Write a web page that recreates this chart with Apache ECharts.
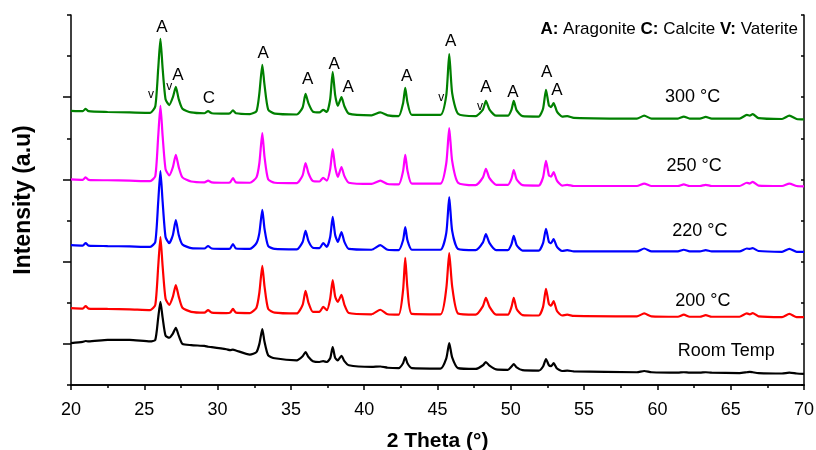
<!DOCTYPE html>
<html>
<head>
    <meta charset="utf-8">
    <title>XRD</title>
    <script src="https://cdn.jsdelivr.net/npm/echarts@6/dist/echarts.min.js"></script>
</head>
<body style="margin:0">
<div id="main" style="width:816px;height:450px;"></div>

<script type="text/javascript">
    // 2 theta positions shared by all patterns
    var theta = [20, 20.8, 21.0, 21.2, 22.5, 24.0, 25.4, 25.75, 25.95, 26.1,
        26.25, 26.45, 26.7, 26.95, 27.15, 27.35, 27.6, 28.2, 29.1, 29.35,
        29.6, 30.6, 30.85, 31.05, 31.25, 32.2, 32.65, 32.85, 33.05, 33.2,
        33.45, 33.9, 35.4, 35.8, 36.0, 36.2, 36.5, 36.95, 37.2, 37.45,
        37.68, 37.85, 38.02, 38.2, 38.45, 38.65, 38.95, 40.5, 41.1, 41.6,
        42.35, 42.65, 42.8, 42.95, 43.25, 45.2, 45.6, 45.8, 46.0, 46.4,
        47.6, 48.1, 48.3, 48.55, 49.0, 49.8, 50.05, 50.2, 50.4, 50.8,
        51.9, 52.2, 52.4, 52.6, 52.75, 52.92, 53.15, 53.5, 53.85, 54.3,
        58.6, 59.1, 59.6, 61.4, 61.8, 62.2, 62.9, 63.3, 63.7, 65.6,
        66.1, 66.3, 66.5, 66.9, 68.5, 69.0, 69.5, 70];

    // intensities (stacked, arbitrary units)
    var t300 = [6.67, 6.66, 6.72, 6.66, 6.64, 6.63, 6.62, 6.78, 7.7, 8.42,
        7.7, 6.95, 6.81, 7.0, 7.25, 6.95, 6.72, 6.63, 6.61, 6.66,
        6.61, 6.60, 6.61, 6.68, 6.61, 6.59, 6.66, 7.1, 7.79, 7.3,
        6.7, 6.6, 6.58, 6.75, 7.08, 6.85, 6.65, 6.63, 6.69, 6.64,
        6.95, 7.62, 7.05, 6.79, 7.0, 6.78, 6.6, 6.56, 6.63, 6.56,
        6.54, 6.85, 7.23, 6.88, 6.57, 6.57, 7.05, 8.05, 7.1, 6.6,
        6.54, 6.7, 6.91, 6.7, 6.55, 6.55, 6.7, 6.91, 6.68, 6.54,
        6.53, 6.72, 7.18, 6.8, 6.76, 6.86, 6.65, 6.53, 6.54, 6.5,
        6.48, 6.55, 6.48, 6.48, 6.53, 6.48, 6.48, 6.52, 6.48, 6.48,
        6.57, 6.55, 6.59, 6.49, 6.47, 6.55, 6.47, 6.46];
    var t250 = [5.00, 4.99, 5.05, 4.99, 4.98, 4.97, 4.96, 5.08, 6.06, 6.79,
        6.06, 5.25, 5.1, 5.3, 5.6, 5.3, 5.05, 4.95, 4.93, 4.97,
        4.93, 4.92, 4.93, 5.03, 4.93, 4.92, 5.05, 5.4, 6.13, 5.55,
        5.0, 4.92, 4.91, 5.1, 5.4, 5.15, 4.96, 4.95, 5.04, 4.97,
        5.25, 5.74, 5.3, 5.06, 5.3, 5.08, 4.92, 4.89, 4.97, 4.89,
        4.88, 5.2, 5.6, 5.22, 4.9, 4.9, 5.4, 6.25, 5.45, 4.92,
        4.86, 5.05, 5.26, 5.03, 4.87, 4.87, 5.02, 5.23, 5.0, 4.86,
        4.85, 5.05, 5.45, 5.1, 5.07, 5.18, 4.97, 4.85, 4.87, 4.84,
        4.84, 4.9, 4.84, 4.84, 4.88, 4.84, 4.84, 4.87, 4.84, 4.84,
        4.92, 4.9, 4.94, 4.85, 4.84, 4.9, 4.84, 4.83];
    var t220 = [3.40, 3.39, 3.45, 3.39, 3.38, 3.37, 3.36, 3.48, 4.46, 5.2,
        4.46, 3.6, 3.45, 3.65, 4.01, 3.65, 3.42, 3.33, 3.32, 3.38,
        3.32, 3.31, 3.32, 3.43, 3.32, 3.31, 3.45, 3.7, 4.26, 3.8,
        3.38, 3.31, 3.3, 3.48, 3.75, 3.5, 3.34, 3.33, 3.45, 3.36,
        3.6, 4.09, 3.65, 3.48, 3.72, 3.48, 3.31, 3.29, 3.4, 3.29,
        3.28, 3.52, 3.84, 3.52, 3.29, 3.29, 3.7, 4.57, 3.75, 3.31,
        3.28, 3.47, 3.67, 3.45, 3.28, 3.28, 3.43, 3.63, 3.4, 3.27,
        3.27, 3.45, 3.8, 3.48, 3.45, 3.55, 3.36, 3.26, 3.28, 3.25,
        3.25, 3.32, 3.25, 3.25, 3.29, 3.25, 3.25, 3.28, 3.25, 3.25,
        3.32, 3.31, 3.33, 3.26, 3.24, 3.31, 3.24, 3.24];
    var t200 = [1.87, 1.86, 1.92, 1.86, 1.85, 1.84, 1.82, 1.95, 2.89, 3.6,
        2.89, 2.1, 1.95, 2.15, 2.43, 2.15, 1.88, 1.78, 1.76, 1.82,
        1.76, 1.75, 1.76, 1.85, 1.76, 1.75, 1.88, 2.25, 2.9, 2.4,
        1.85, 1.76, 1.74, 1.95, 2.29, 2.0, 1.78, 1.78, 1.9, 1.82,
        2.1, 2.55, 2.15, 2.02, 2.19, 1.95, 1.75, 1.72, 1.83, 1.72,
        1.71, 2.3, 3.09, 2.35, 1.73, 1.72, 2.35, 3.21, 2.4, 1.74,
        1.71, 1.92, 2.12, 1.9, 1.71, 1.71, 1.9, 2.12, 1.85, 1.7,
        1.69, 1.9, 2.34, 1.97, 1.93, 2.04, 1.8, 1.69, 1.71, 1.68,
        1.67, 1.74, 1.67, 1.66, 1.71, 1.66, 1.66, 1.7, 1.66, 1.66,
        1.74, 1.72, 1.75, 1.67, 1.65, 1.73, 1.65, 1.65];
    var tRoom = [1.02, 1.05, 1.07, 1.06, 1.1, 1.1, 1.06, 1.1, 1.64, 2.02,
        1.64, 1.2, 1.15, 1.25, 1.39, 1.2, 1.0, 0.97, 0.95, 0.93,
        0.92, 0.87, 0.85, 0.86, 0.84, 0.74, 0.8, 1.0, 1.36, 1.05,
        0.72, 0.65, 0.6, 0.7, 0.8, 0.68, 0.58, 0.56, 0.58, 0.56,
        0.65, 0.92, 0.66, 0.6, 0.71, 0.58, 0.48, 0.44, 0.45, 0.42,
        0.41, 0.53, 0.68, 0.53, 0.41, 0.4, 0.65, 1.02, 0.67, 0.41,
        0.39, 0.48, 0.56, 0.47, 0.38, 0.37, 0.45, 0.51, 0.43, 0.36,
        0.35, 0.45, 0.63, 0.48, 0.46, 0.53, 0.4, 0.34, 0.35, 0.33,
        0.31, 0.34, 0.31, 0.3, 0.31, 0.3, 0.3, 0.31, 0.3, 0.29,
        0.31, 0.32, 0.31, 0.29, 0.28, 0.3, 0.28, 0.27];

    // phase marks: [2theta, intensity, letter]
    var phaseMarks = [
        [26.2, 8.69, 'A'], [27.3, 7.54, 'A'], [29.4, 6.98, 'C'], [33.1, 8.08, 'A'],
        [36.15, 7.44, 'A'], [37.95, 7.81, 'A'], [38.9, 7.25, 'A'], [42.9, 7.52, 'A'],
        [45.9, 8.35, 'A'], [48.3, 7.25, 'A'], [50.15, 7.12, 'A'], [52.45, 7.6, 'A'],
        [53.15, 7.18, 'A']
    ];
    var vaterMarks = [[25.45, 7.06, 'v'], [26.7, 7.25, 'v'], [45.25, 7.0, 'v'], [47.9, 6.77, 'v']];

    // sample names: [2theta, intensity, name]
    var sampleNames = [
        [62.4, 7.0, '300 °C'], [62.5, 5.33, '250 °C'], [62.9, 3.75, '220 °C'],
        [63.1, 2.04, '200 °C'], [64.7, 0.83, 'Room Temp']
    ];

    var font = 'Arial, "Liberation Sans", sans-serif';

    function pairs(vals) {
        return theta.map(function (x, i) { return [x, vals[i]]; });
    }

    function line(name, vals, color) {
        return {
            name: name,
            type: 'line',
            data: pairs(vals),
            showSymbol: false,
            symbol: 'none',
            smooth: 0.2,
            lineStyle: {color: color, width: 2.2},
            silent: true,
            z: 2
        };
    }

    function textSeries(data, size) {
        return {
            type: 'scatter',
            data: data,
            symbolSize: 0,
            silent: true,
            z: 5,
            itemStyle: {opacity: 1},
            label: {
                show: true,
                position: 'inside',
                formatter: function (p) { return p.data[2]; },
                fontSize: size,
                fontFamily: font,
                color: '#000',
                textBorderWidth: 0,
                opacity: 1
            }
        };
    }

    var axisLine = {show: true, lineStyle: {color: '#000', width: 1.5}};

    var option = {
        animation: false,
        grid: {left: 71, right: 12, top: 15, bottom: 65, containLabel: false, outerBoundsMode: 'none'},
        xAxis: [{
            type: 'value', min: 20, max: 70, interval: 5,
            position: 'bottom',
            axisLine: axisLine,
            axisTick: {show: true, inside: false, length: 5, lineStyle: {color: '#000', width: 1.5}},
            minorTick: {show: true, splitNumber: 2, length: 3, lineStyle: {color: '#000', width: 1.5}},
            axisLabel: {fontSize: 18, color: '#000', fontFamily: font, margin: 16},
            splitLine: {show: false},
            name: '2 Theta (°)', nameLocation: 'middle', nameGap: 46,
            nameTextStyle: {fontSize: 21, fontWeight: 'bold', color: '#000', fontFamily: font}
        }, {
            type: 'value', min: 20, max: 70, interval: 5,
            position: 'top',
            axisLine: axisLine,
            axisTick: {show: true, inside: true, length: 3, lineStyle: {color: '#000', width: 1.5}},
            minorTick: {show: true, splitNumber: 2, length: 3, lineStyle: {color: '#000', width: 1.5}},
            axisLabel: {show: false},
            splitLine: {show: false}
        }],
        yAxis: [{
            type: 'value', min: 0, max: 9, interval: 1,
            position: 'left',
            axisLine: axisLine,
            axisTick: {show: true, inside: false, length: 4, lineStyle: {color: '#000', width: 1.5}},
            axisLabel: {show: false},
            splitLine: {show: false},
            name: 'Intensity (a.u)', nameLocation: 'middle', nameGap: 36,
            nameTextStyle: {fontSize: 23, fontWeight: 'bold', color: '#000', fontFamily: font}
        }, {
            type: 'value', min: 0, max: 9, interval: 1,
            position: 'right',
            axisLine: axisLine,
            axisTick: {show: true, inside: true, length: 3, lineStyle: {color: '#000', width: 1.5}},
            axisLabel: {show: false},
            splitLine: {show: false}
        }, {
            type: 'value', min: 0, max: 9,
            position: 'left',
            axisLine: {show: false},
            axisTick: {show: true, inside: false, length: 8, customValues: [1, 3, 5, 7],
                lineStyle: {color: '#000', width: 1.5}},
            axisLabel: {show: false},
            splitLine: {show: false}
        }],
        graphic: [{
            type: 'text',
            right: 18,
            top: 21,
            style: {
                text: '{b|A:} Aragonite {b|C:} Calcite {b|V:} Vaterite',
                font: '17px ' + font,
                fill: '#000',
                rich: {b: {fontWeight: 'bold', fontSize: 17, fontFamily: font}}
            }
        }],
        series: [
            line('Room Temp', tRoom, '#000000'),
            line('200 °C', t200, '#ff0000'),
            line('220 °C', t220, '#0000ff'),
            line('250 °C', t250, '#ff00ff'),
            line('300 °C', t300, '#008000'),
            textSeries(phaseMarks, 17),
            textSeries(vaterMarks, 12),
            textSeries(sampleNames, 18)
        ]
    };

    var myChart = echarts.init(document.getElementById('main'));
    myChart.setOption(option);
</script>
</body>
</html>
